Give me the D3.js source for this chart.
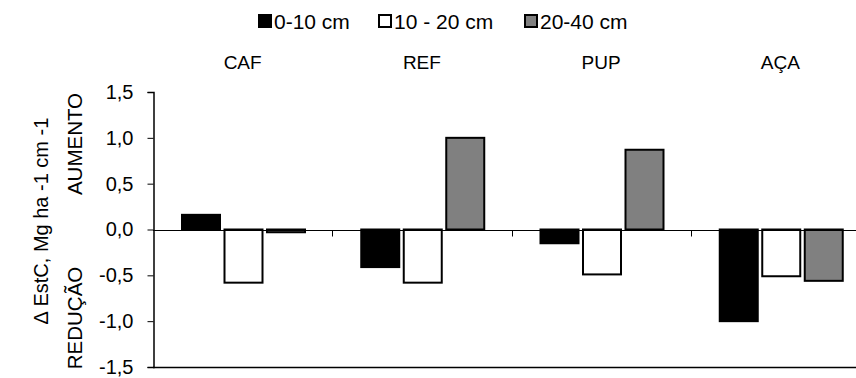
<!DOCTYPE html>
<html>
<head>
<meta charset="utf-8">
<script src="https://cdn.jsdelivr.net/npm/d3@7"></script>
<style>
  body { margin: 0; background: #fff; }
  svg { display: block; }
  text { font-family: "Liberation Sans", Arial, sans-serif; fill: #000; }
</style>
</head>
<body>
<svg id="chart" width="856" height="378"></svg>
<script>
const categories = ["CAF", "REF", "PUP", "AÇA"];
const seriesNames = ["0-10 cm", "10 - 20 cm", "20-40 cm"];
const s0_10 = [0.16, -0.41, -0.15, -1.0];
const s10_20 = [-0.58, -0.58, -0.49, -0.51];
const s20_40 = [-0.03, 1.0, 0.87, -0.56];
const yTicks = [1.5, 1.0, 0.5, 0.0, -0.5, -1.0, -1.5];
const seriesColors = ["#000000", "#ffffff", "#808080"];

const seriesValues = [s0_10, s10_20, s20_40];

const svg = d3.select("#chart");
const mLeft = 153, mRight = 870, mTop = 92, mBottom = 367;

const x0 = d3.scaleBand().domain(categories).range([mLeft, mRight]).paddingInner(0).paddingOuter(0);
const bw = x0.bandwidth();
const x1 = d3.scaleBand().domain(seriesNames).range([28, 153]).paddingInner(2.5 / 42.5).paddingOuter(0);
const y = d3.scaleLinear().domain([-1.5, 1.5]).range([mBottom, mTop]);

// bars
const data = [];
categories.forEach((c, i) => {
  seriesNames.forEach((s, j) => {
    data.push({ c, s, j, v: seriesValues[j][i] });
  });
});

svg.append("g").selectAll("rect").data(data).enter().append("rect")
  .attr("x", d => x0(d.c) + x1(d.s) + 1)
  .attr("width", x1.bandwidth() - 2)
  .attr("y", d => Math.min(y(d.v), y(0)))
  .attr("height", d => Math.abs(y(d.v) - y(0)))
  .attr("fill", d => seriesColors[d.j])
  .attr("stroke", "#000")
  .attr("stroke-width", 2);

// zero line with ticks at category boundaries
const zeroY = Math.round(y(0)) + 0.5;
svg.append("line")
  .attr("x1", mLeft).attr("x2", 856).attr("y1", zeroY).attr("y2", zeroY)
  .attr("stroke", "#000").attr("stroke-width", 1);
categories.slice(1).forEach(c => {
  const xx = Math.round(x0(c)) + 0.5;
  svg.append("line").attr("x1", xx).attr("x2", xx).attr("y1", zeroY).attr("y2", zeroY + 6)
    .attr("stroke", "#000").attr("stroke-width", 1);
});

// bottom line
svg.append("line")
  .attr("x1", mLeft).attr("x2", 856).attr("y1", Math.round(y(-1.5)) + 0.5).attr("y2", Math.round(y(-1.5)) + 0.5)
  .attr("stroke", "#000").attr("stroke-width", 1.5);

// y axis
const yAxis = d3.axisLeft(y).tickValues(yTicks).tickSize(6).tickPadding(14)
  .tickFormat(d => d3.format(".1f")(d).replace(".", ",").replace("−", "-"));
const gy = svg.append("g").attr("transform", `translate(${mLeft + 0.5},0)`).call(yAxis);
gy.select(".domain").attr("stroke", "#000").attr("stroke-width", 1.5);
gy.selectAll(".tick line").attr("stroke", "#000");
gy.selectAll(".tick text").attr("font-size", 20).attr("font-family", "Liberation Sans, Arial, sans-serif").attr("fill", "#000");

// category labels on top
svg.append("g").selectAll("text").data(categories).enter().append("text")
  .attr("x", d => x0(d) + bw / 2)
  .attr("y", 69)
  .attr("text-anchor", "middle")
  .attr("font-size", 19)
  .text(d => d);

// rotated labels
svg.append("text")
  .attr("transform", "translate(48,221) rotate(-90)")
  .attr("text-anchor", "middle").attr("font-size", 20)
  .text("Δ EstC, Mg ha -1 cm -1");
svg.append("text")
  .attr("transform", "translate(82,144) rotate(-90)")
  .attr("text-anchor", "middle").attr("font-size", 20.5)
  .text("AUMENTO");
svg.append("text")
  .attr("transform", "translate(82,318) rotate(-90)")
  .attr("text-anchor", "middle").attr("font-size", 20.5)
  .text("REDUÇÃO");

// legend
const legendX = [258, 378, 524];
const lg = svg.append("g").selectAll("g").data(seriesNames).enter().append("g")
  .attr("transform", (d, i) => `translate(${legendX[i]},14)`);
lg.append("rect").attr("x", 1).attr("y", 1).attr("width", 12).attr("height", 12)
  .attr("fill", (d, i) => seriesColors[i]).attr("stroke", "#000").attr("stroke-width", 2);
lg.append("text").attr("x", 16).attr("y", 15).attr("font-size", 21).text(d => d);
</script>
</body>
</html>
